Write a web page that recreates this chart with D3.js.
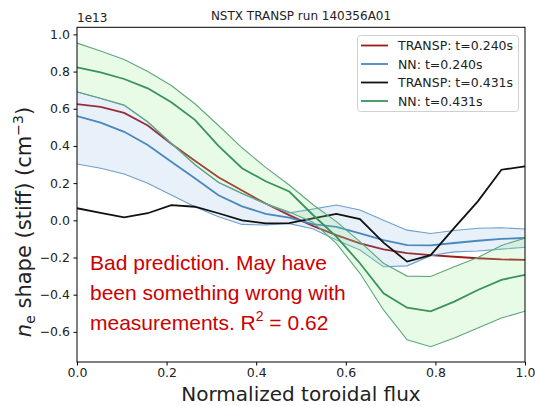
<!DOCTYPE html>
<html><head><meta charset="utf-8">
<script src="https://cdn.jsdelivr.net/npm/d3@7"></script>
<style>body{margin:0;background:#fff}svg{display:block}text{font-family:"DejaVu Sans",sans-serif}</style>
</head><body><svg id="c" width="535" height="406"></svg>
<script>
const N = 20;
const xVals = d3.range(N).map(i => i / (N - 1));
const transp240 = [0.625, 0.61, 0.578, 0.51, 0.412, 0.32, 0.232, 0.16, 0.09, 0.028, -0.03, -0.08, -0.124, -0.156, -0.177, -0.187, -0.196, -0.204, -0.21, -0.213];
const nn240 = [0.561, 0.525, 0.476, 0.405, 0.315, 0.226, 0.135, 0.075, 0.035, 0.015, -0.02, -0.035, -0.07, -0.106, -0.133, -0.135, -0.122, -0.11, -0.1, -0.095];
const nn240Lo = [0.303, 0.28, 0.249, 0.199, 0.136, 0.073, 0.019, -0.022, -0.025, -0.018, -0.045, -0.106, -0.16, -0.25, -0.245, -0.19, -0.17, -0.165, -0.155, -0.145];
const nn240Hi = [0.69, 0.655, 0.618, 0.528, 0.413, 0.298, 0.203, 0.143, 0.088, 0.04, 0.06, 0.082, 0.055, 0.0, -0.053, -0.071, -0.055, -0.043, -0.04, -0.047];
const transp431 = [0.065, 0.04, 0.016, 0.038, 0.082, 0.073, 0.038, 0.0, -0.016, -0.015, 0.01, 0.034, 0.007, -0.12, -0.222, -0.187, -0.041, 0.102, 0.272, 0.29];
const nn431 = [0.823, 0.795, 0.76, 0.71, 0.635, 0.54, 0.4, 0.28, 0.21, 0.155, 0.03, -0.088, -0.231, -0.392, -0.47, -0.49, -0.437, -0.375, -0.32, -0.293];
const nn431Lo = [0.691, 0.656, 0.62, 0.53, 0.415, 0.3, 0.205, 0.145, 0.09, 0.045, -0.01, -0.124, -0.285, -0.482, -0.643, -0.68, -0.633, -0.579, -0.525, -0.489];
const nn431Hi = [0.953, 0.91, 0.865, 0.80, 0.725, 0.627, 0.51, 0.39, 0.285, 0.19, 0.085, -0.007, -0.115, -0.231, -0.30, -0.302, -0.25, -0.20, -0.135, -0.096];
const xTicks = [0, 0.2, 0.4, 0.6, 0.8, 1.0];
const yTicks = [-0.6, -0.4, -0.2, 0.0, 0.2, 0.4, 0.6, 0.8, 1.0];
const legendLabels = ["TRANSP: t=0.240s", "NN: t=0.240s", "TRANSP: t=0.431s", "NN: t=0.431s"];
const title = "NSTX TRANSP run 140356A01";
const xLabel = "Normalized toroidal flux";
const noteLines = ["Bad prediction. May have", "been something wrong with", "measurements. R"];

const C = {red: "#9e1a1a", blue: "#4a87be", blueEdge: "#6f9fcb", blueFill: "#6fa8dc", black: "#111", green: "#3a925c", greenEdge: "#5ea77b", greenFill: "#90ee90"};
const L = 77, R = 525, T = 27.3, B = 362;
const svg = d3.select("#c");
const x = d3.scaleLinear().domain([0, 1]).range([L, R]);
const y = d3.scaleLinear().domain([-0.762, 1.038]).range([B, T]);

const line = arr => d3.line().x((d, i) => x(xVals[i])).y(d => y(d))(arr);
const area = (lo, hi) => d3.area().x((d, i) => x(xVals[i])).y0((d, i) => y(lo[i])).y1((d, i) => y(hi[i]))(lo);

const g = svg.append("g");
g.append("defs").append("clipPath").attr("id", "clip").append("rect").attr("x", L).attr("y", T).attr("width", R - L).attr("height", B - T);
const p = g.append("g").attr("clip-path", "url(#clip)");
// TRANSP 0.240
p.append("path").attr("d", line(transp240)).attr("fill", "none").attr("stroke", C.red).attr("stroke-width", 1.8);
// NN 0.240
p.append("path").attr("d", area(nn240Lo, nn240Hi)).attr("fill", C.blueFill).attr("fill-opacity", 0.16);
[nn240Lo, nn240Hi].forEach(a => p.append("path").attr("d", line(a)).attr("fill", "none").attr("stroke", C.blueEdge).attr("stroke-width", 1.1));
p.append("path").attr("d", line(nn240)).attr("fill", "none").attr("stroke", C.blue).attr("stroke-width", 1.8);
// TRANSP 0.431
p.append("path").attr("d", line(transp431)).attr("fill", "none").attr("stroke", C.black).attr("stroke-width", 1.8);
// NN 0.431
p.append("path").attr("d", area(nn431Lo, nn431Hi)).attr("fill", C.greenFill).attr("fill-opacity", 0.22);
[nn431Lo, nn431Hi].forEach(a => p.append("path").attr("d", line(a)).attr("fill", "none").attr("stroke", C.greenEdge).attr("stroke-width", 1.1));
p.append("path").attr("d", line(nn431)).attr("fill", "none").attr("stroke", C.green).attr("stroke-width", 1.8);

// axes
const fmt = d => d3.format(".1f")(d).replace("-", "\u2212");
const xa = g.append("g").attr("transform", `translate(0,${B})`).call(d3.axisBottom(x).tickValues(xTicks).tickFormat(fmt).tickSize(3.5).tickPadding(3));
const ya = g.append("g").attr("transform", `translate(${L},0)`).call(d3.axisLeft(y).tickValues(yTicks).tickFormat(fmt).tickSize(3.5).tickPadding(3.5));
[xa, ya].forEach(a => { a.select(".domain").remove(); a.selectAll("text").attr("font-size", 12.5).attr("fill", "#222").attr("font-family", "DejaVu Sans"); a.selectAll("line").attr("stroke", "#000"); });
g.append("rect").attr("x", L).attr("y", T).attr("width", R - L).attr("height", B - T).attr("fill", "none").attr("stroke", "#000").attr("stroke-width", 1);

g.append("text").attr("x", L).attr("y", 22).attr("font-size", 12).attr("fill", "#222").text("1e13");
g.append("text").attr("x", (L + R) / 2).attr("y", 19.5).attr("text-anchor", "middle").attr("font-size", 12).attr("fill", "#222").text(title);
g.append("text").attr("x", (L + R) / 2).attr("y", 401).attr("text-anchor", "middle").attr("font-size", 20).attr("fill", "#222").text(xLabel);

const yl = g.append("text").attr("transform", "translate(31,222) rotate(-90)").attr("text-anchor", "middle").attr("font-size", 21).attr("fill", "#222");
yl.append("tspan").attr("font-style", "italic").text("n");
yl.append("tspan").attr("font-size", 14).attr("dy", 4).text("e");
yl.append("tspan").attr("dy", -4).text(" shape (stiff) (cm");
yl.append("tspan").attr("font-size", 14).attr("dy", -8).text("\u22123");
yl.append("tspan").attr("dy", 8).text(")");

// legend
const lg = g.append("g");
lg.append("rect").attr("x", 357.5).attr("y", 35.5).attr("width", 161).attr("height", 76).attr("rx", 3).attr("fill", "#fff").attr("fill-opacity", 0.85).attr("stroke", "#d0d0d0");
const lcol = [C.red, C.blue, C.black, C.green];
legendLabels.forEach((t, i) => {
  const cy = 45.5 + i * 18.5;
  lg.append("line").attr("x1", 361).attr("x2", 388).attr("y1", cy).attr("y2", cy).attr("stroke", lcol[i]).attr("stroke-width", 1.8);
  lg.append("text").attr("x", 398).attr("y", cy + 4.6).attr("font-size", 12.5).attr("fill", "#222").text(t);
});

// annotation
const note = g.append("g").attr("font-size", 21).attr("fill", "#cc0000");
noteLines.forEach((t, i) => {
  const tx = note.append("text").attr("x", 90).attr("y", 270 + i * 30).style("font-family", "'Liberation Sans', Arial, sans-serif");
  tx.append("tspan").text(t);
  if (i === 2) {
    tx.append("tspan").attr("font-size", 14).attr("dy", -9).text("2");
    tx.append("tspan").attr("dy", 9).text(" = 0.62");
  }
});
</script></body></html>
